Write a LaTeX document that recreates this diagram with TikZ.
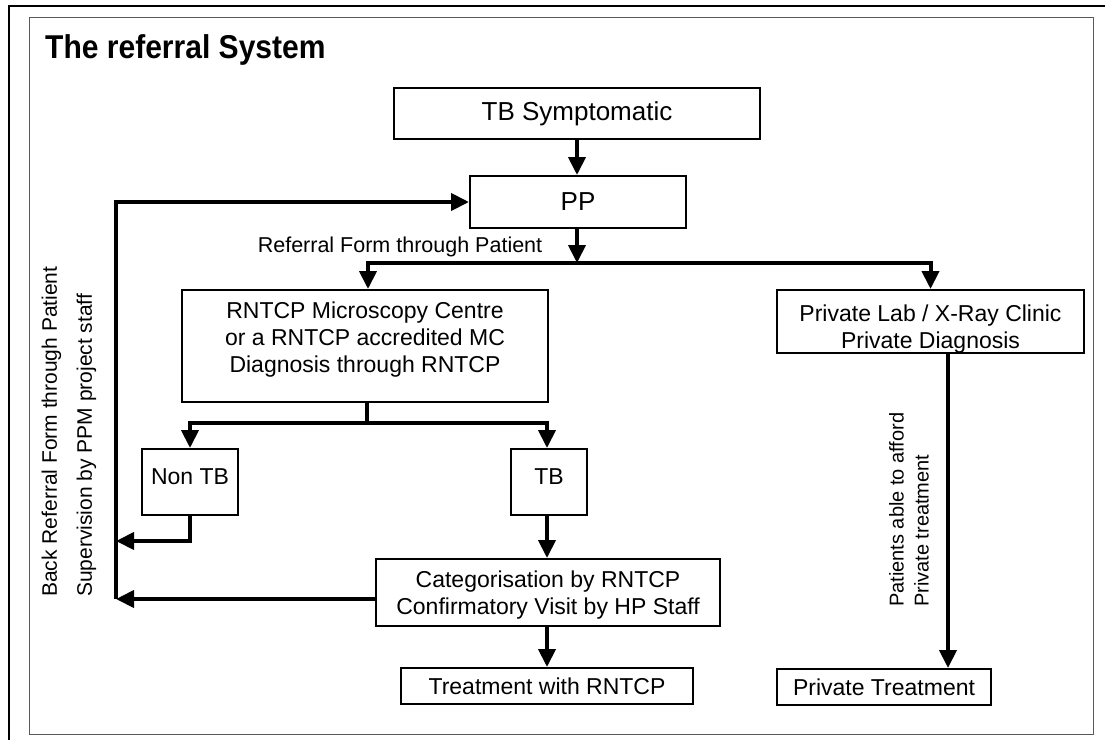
\documentclass[tikz,border=0pt]{standalone}
\usepackage{fontspec}
\setmainfont{Liberation Sans}
\usetikzlibrary{arrows.meta}

\begin{document}
\begin{tikzpicture}[x=1pt, y=-1pt,
	box/.style={draw, line width=2pt, inner sep=0pt, align=center, font=\fontsize{23}{27}\selectfont},
	bigbox/.style={box, font=\fontsize{26}{30}\selectfont},
	conn/.style={line width=4pt},
	arr/.style={conn, -{Triangle[length=18pt, width=17pt]}},
	side/.style={rotate=90, anchor=west, align=left, inner sep=0pt}]

	\useasboundingbox (0,0) rectangle (1105,740);

	% frames
	\draw[line width=2pt] (9,740) -- (9,6) -- (1105,6);
	\draw[gray!70!black, line width=0.8pt] (29,17) rectangle (1093,734);

	\node[anchor=base west, inner sep=0pt, font=\bfseries\fontsize{33}{33}\selectfont] (title) at (45,58) {\scalebox{0.91}[1]{The referral System}};

	% boxes
	\node[bigbox, minimum width=366pt, minimum height=51pt] (sym) at (577,113.5) {TB Symptomatic};
	\node[bigbox, minimum width=216pt, minimum height=52pt] (pp) at (578,202) {PP};
	\node[box, minimum width=366pt, minimum height=112pt] (mc) at (365,346) {RNTCP Microscopy Centre\\or a RNTCP accredited MC\\Diagnosis through RNTCP\rule[-17pt]{0pt}{0pt}};
	\node[box, minimum width=307pt, minimum height=63pt] (lab) at (930.5,321.5) {\rule{0pt}{31pt}Private Lab / X-Ray Clinic\\Private Diagnosis};
	\node[box, minimum width=96pt, minimum height=66pt, text depth=10pt] (nontb) at (190,482) {Non TB};
	\node[box, minimum width=76pt, minimum height=66pt, text depth=10pt] (tb) at (549,482) {TB};
	\node[box, minimum width=344pt, minimum height=67pt] (cat) at (548,592.5) {\rule{0pt}{22pt}Categorisation by RNTCP\\Confirmatory Visit by HP Staff};
	\node[box, minimum width=292pt, minimum height=36pt] (treat) at (547,686) {Treatment with RNTCP};
	\node[box, minimum width=214pt, minimum height=36pt] (ptreat) at (884,687) {Private Treatment};

	% labels
	\node[anchor=base, inner sep=0pt, font=\fontsize{21.5}{25}\selectfont] (reflbl) at (400,252) {Referral Form through Patient};
	\node[side, font=\fontsize{21}{35}\selectfont] (backlbl) at (69,597) {Back Referral Form through Patient\\Supervision by PPM project staff};
	\node[side, font=\fontsize{20}{25}\selectfont] (afflbl) at (909,607) {Patients able to afford\\Private treatment};

	% connectors
	\coordinate (split) at (577,263);
	\coordinate (fork) at (367,423);
	\coordinate (backA) at (116,541);
	\coordinate (backB) at (116,599);

	\draw[arr] (sym.south) -- (sym.south |- pp.north);
	\draw[arr] (pp.south -| split) -- (split);
	\draw[arr] (split) -| ([xshift=3pt]mc.north);
	\draw[arr] (split) -| (lab.north);
	\draw[conn] (mc.south -| fork) -- (fork);
	\draw[arr] (fork) -| (nontb.north);
	\draw[arr] (fork) -| ([xshift=-2pt]tb.north);
	\draw[arr] (nontb.south) |- (backA);
	\draw[arr] ([xshift=-2pt]tb.south) -- ([xshift=-2pt]tb.south |- cat.north);
	\draw[arr] (cat.west |- backB) -- (backB);
	\draw[arr] (backB) |- (pp.west);
	\draw[arr] (treat.north |- cat.south) -- (treat.north);
	\draw[arr] ([xshift=17.5pt]lab.south) -- ([xshift=17.5pt]lab.south |- ptreat.north);

\end{tikzpicture}
\end{document}
